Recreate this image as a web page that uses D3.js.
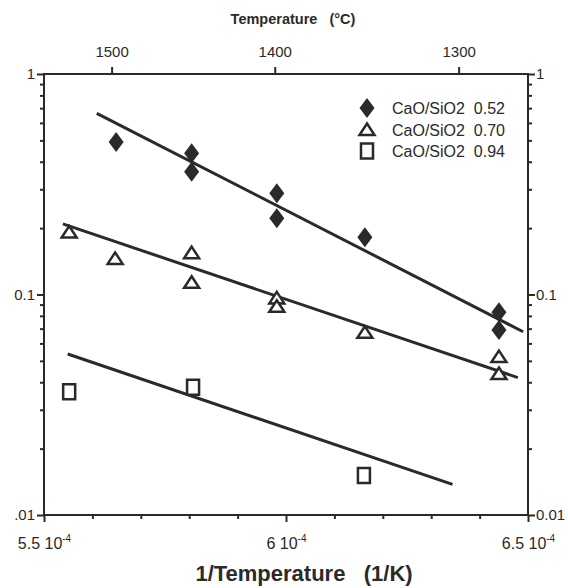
<!DOCTYPE html>
<html>
<head>
<meta charset="utf-8">
<script src="https://cdn.jsdelivr.net/npm/d3@7"></script>
<style>
body { margin: 0; background: #fff; }
text { font-family: "Liberation Sans", Arial, sans-serif; fill: #2a2a2a; }
</style>
</head>
<body>
<script>
// axis ticks
const tempTicks = [1500, 1400, 1300];
const invTTicks = [5.5e-4, 6e-4, 6.5e-4];
const invTLabels = ["5.5", "6", "6.5"];
const yTicks = [1, 0.1, 0.01];
const yLabelsLeft = ["1", "0.1", ".01"];
const yLabelsRight = ["1", "0.1", "0.01"];

// measured points (1/K, value)
const seriesNames = ["CaO/SiO2  0.52", "CaO/SiO2  0.70", "CaO/SiO2  0.94"];
const x052 = [5.649e-4, 5.805e-4, 5.805e-4, 5.981e-4, 5.981e-4, 6.163e-4, 6.440e-4, 6.440e-4];
const y052 = [0.491, 0.437, 0.360, 0.288, 0.222, 0.182, 0.083, 0.069];
const x070 = [5.552e-4, 5.647e-4, 5.805e-4, 5.805e-4, 5.981e-4, 5.981e-4, 6.163e-4, 6.440e-4, 6.440e-4];
const y070 = [0.191, 0.145, 0.154, 0.113, 0.096, 0.088, 0.067, 0.052, 0.0436];
const x094 = [5.552e-4, 5.808e-4, 6.161e-4];
const y094 = [0.0362, 0.0380, 0.0151];

// fitted lines, end points
const fitX052 = [5.609e-4, 6.490e-4], fitY052 = [0.663, 0.0678];
const fitX070 = [5.539e-4, 6.479e-4], fitY070 = [0.209, 0.042];
const fitX094 = [5.549e-4, 6.344e-4], fitY094 = [0.0537, 0.01377];

const width = 568, height = 588;
const ink = "#2a2a2a";
const plotLeft = 44, plotRight = 528, plotTop = 74, plotBottom = 515;

const svg = d3.select("body").append("svg")
  .attr("width", width)
  .attr("height", height);

const x = d3.scaleLinear().domain([5.5e-4, 6.5e-4]).range([plotLeft, plotRight]);
const y = d3.scaleLog().domain([0.01, 1]).range([plotBottom, plotTop]);

// minor ticks
const minorX = d3.range(0, 11).map(i => 5.5e-4 + i * 1e-5).filter(v => !invTTicks.some(t => Math.abs(t - v) < 1e-9));
const minorY = [];
[0.01, 0.1].forEach(d => { for (let k = 2; k <= 9; k++) minorY.push(d * k); });

function styleAxis(g) {
  g.select(".domain").remove();
  g.selectAll("line").attr("stroke", ink).attr("stroke-width", 2);
  g.selectAll("text").attr("fill", ink);
}

// bottom
svg.append("g").attr("transform", `translate(0,${plotBottom})`)
  .call(d3.axisBottom(x).tickValues(minorX).tickSize(4).tickFormat(""))
  .call(styleAxis);
const bx = svg.append("g").attr("transform", `translate(0,${plotBottom})`)
  .call(d3.axisBottom(x).tickValues(invTTicks).tickSize(7))
  .call(styleAxis);
bx.selectAll("text")
  .attr("y", 34).attr("dy", null)
  .style("font-size", "16px")
  .text(null)
  .each(function (d, i) {
    const t = d3.select(this);
    t.append("tspan").text(invTLabels[i] + " 10");
    t.append("tspan").attr("dy", -7).style("font-size", "10px").text("-4");
  });

// top (temperature in °C)
svg.append("g").attr("transform", `translate(0,${plotTop})`)
  .call(d3.axisTop(x).tickValues(tempTicks.map(t => 1 / (t + 273.15))).tickSize(7)
    .tickFormat((d, i) => tempTicks[i]))
  .call(styleAxis)
  .selectAll("text").attr("y", -17).style("font-size", "15px");

// left
svg.append("g").attr("transform", `translate(${plotLeft},0)`)
  .call(d3.axisLeft(y).tickValues(minorY).tickSize(4).tickFormat(""))
  .call(styleAxis);
svg.append("g").attr("transform", `translate(${plotLeft},0)`)
  .call(d3.axisLeft(y).tickValues(yTicks).tickSize(7).tickPadding(2)
    .tickFormat((d, i) => yLabelsLeft[i]))
  .call(styleAxis)
  .selectAll("text").style("font-size", "15px");

// right
svg.append("g").attr("transform", `translate(${plotRight},0)`)
  .call(d3.axisRight(y).tickValues(minorY).tickSize(4).tickFormat(""))
  .call(styleAxis);
svg.append("g").attr("transform", `translate(${plotRight},0)`)
  .call(d3.axisRight(y).tickValues(yTicks).tickSize(7).tickPadding(1)
    .tickFormat((d, i) => yLabelsRight[i]))
  .call(styleAxis)
  .selectAll("text").style("font-size", "15px");

// frame
svg.append("rect")
  .attr("x", plotLeft).attr("y", plotTop)
  .attr("width", plotRight - plotLeft).attr("height", plotBottom - plotTop)
  .attr("fill", "none").attr("stroke", ink).attr("stroke-width", 2);

// titles
svg.append("text")
  .attr("x", 293).attr("y", 24)
  .attr("text-anchor", "middle")
  .style("font-size", "14.5px").style("font-weight", "bold").style("white-space", "pre")
  .text("Temperature   (°C)");
svg.append("text")
  .attr("x", 304).attr("y", 581)
  .attr("text-anchor", "middle")
  .style("font-size", "22px").style("font-weight", "bold").style("white-space", "pre")
  .text("1/Temperature   (1/K)");

// fit lines
const line = d3.line().x(d => x(d[0])).y(d => y(d[1]));
[[fitX052, fitY052], [fitX070, fitY070], [fitX094, fitY094]].forEach(([fx, fy]) => {
  svg.append("path")
    .attr("d", line(d3.zip(fx, fy)))
    .attr("fill", "none").attr("stroke", ink).attr("stroke-width", 3);
});

// markers
const diamond = "M0,-10L7.5,0L0,10L-7.5,0Z";
const triangle = "M0,-6.5L7.5,5L-7.5,5Z";
const square = "M-6,-7.5L6,-7.5L6,7.5L-6,7.5Z";
const markerStyle = [
  { d: diamond, fill: ink, stroke: "none" },
  { d: triangle, fill: "#fff", stroke: ink },
  { d: square, fill: "#fff", stroke: ink }
];

[[x052, y052], [x070, y070], [x094, y094]].forEach(([sx, sy], s) => {
  svg.append("g").selectAll("path")
    .data(d3.zip(sx, sy))
    .join("path")
    .attr("transform", d => `translate(${x(d[0])},${y(d[1])})`)
    .attr("d", markerStyle[s].d)
    .attr("fill", markerStyle[s].fill)
    .attr("stroke", markerStyle[s].stroke)
    .attr("stroke-width", 2.5);
});

// legend
const legend = svg.append("g").attr("transform", "translate(367,0)");
const legendY = [108, 130, 151];
seriesNames.forEach((name, i) => {
  legend.append("path")
    .attr("transform", `translate(0,${legendY[i]})`)
    .attr("d", markerStyle[i].d)
    .attr("fill", markerStyle[i].fill)
    .attr("stroke", markerStyle[i].stroke)
    .attr("stroke-width", 2.5);
  legend.append("text")
    .attr("x", 25).attr("y", legendY[i] + 6)
    .style("font-size", "16px").style("white-space", "pre")
    .text(name);
});
</script>
</body>
</html>
